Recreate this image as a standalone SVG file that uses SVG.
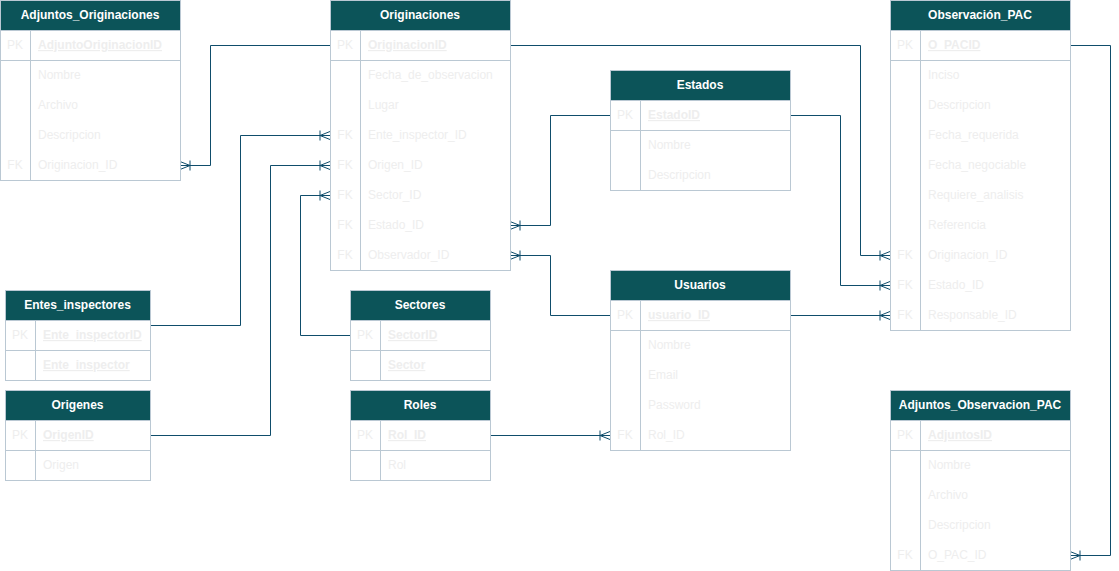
<svg xmlns="http://www.w3.org/2000/svg" width="1119" height="571" viewBox="0 0 1119 571">
<style>
.bg{fill:#ffffff}
.tb{fill:#ffffff;stroke:#BAC8D3;stroke-width:1}
.hd{fill:#0C5459;stroke:#BAC8D3;stroke-width:1}
.sep{stroke:#BAC8D3;stroke-width:1;fill:none}
.ht{font-family:"Liberation Sans",Arial,sans-serif;font-size:12px;font-weight:bold;fill:#ffffff;text-anchor:middle}
.k{font-family:"Liberation Sans",Arial,sans-serif;font-size:12px;fill:#EEEEEE;text-anchor:middle}
.f{font-family:"Liberation Sans",Arial,sans-serif;font-size:12px;fill:#EEEEEE}
.pk{font-weight:bold;text-decoration:underline}
.c{fill:none;stroke:#0F4D6B;stroke-width:1}
</style>
<defs>
<marker id="many" markerUnits="userSpaceOnUse" markerWidth="12" markerHeight="12" viewBox="0 0 12 12" refX="11" refY="6" orient="auto">
<path d="M1,1 L1,11 M1,6 L11,2 M1,6 L11,10" fill="none" stroke="#0F4D6B" stroke-width="1"/>
</marker>
</defs>
<rect class="bg" x="0" y="0" width="1119" height="571"/>

<g id="connectors">
<path class="c" d="M330,45.5 H210.5 V165.5 H180" marker-end="url(#many)"/>
<path class="c" d="M510,45.5 H860.5 V255.5 H890" marker-end="url(#many)"/>
<path class="c" d="M150,325.5 H240.5 V135.5 H330" marker-end="url(#many)"/>
<path class="c" d="M150,435.5 H270.5 V165.5 H330" marker-end="url(#many)"/>
<path class="c" d="M350,335.5 H300.5 V195.5 H330" marker-end="url(#many)"/>
<path class="c" d="M610,115.5 H550.5 V225.5 H510" marker-end="url(#many)"/>
<path class="c" d="M610,315.5 H550.5 V255.5 H510" marker-end="url(#many)"/>
<path class="c" d="M790,115.5 H840.5 V285.5 H890" marker-end="url(#many)"/>
<path class="c" d="M790,315.5 H890" marker-end="url(#many)"/>
<path class="c" d="M490,435.5 H610" marker-end="url(#many)"/>
<path class="c" d="M1070,45.5 H1110.5 V555.5 H1070" marker-end="url(#many)"/>
</g>

<g id="Adjuntos_Originaciones" transform="translate(0,0)">
<rect class="tb" x="0.5" y="0.5" width="180" height="180"/>
<rect class="hd" x="0.5" y="0.5" width="180" height="30"/>
<path class="sep" d="M0.5,60.5 H180.5 M30.5,30.5 V180.5"/>
<text class="ht" x="90" y="19">Adjuntos_Originaciones</text>
<text class="k" x="15" y="49">PK</text><text class="f pk" x="38" y="49">AdjuntoOriginacionID</text>
<text class="f" x="38" y="79">Nombre</text>
<text class="f" x="38" y="109">Archivo</text>
<text class="f" x="38" y="139">Descripcion</text>
<text class="k" x="15" y="169">FK</text><text class="f" x="38" y="169">Originacion_ID</text>
</g>

<g id="Originaciones" transform="translate(330,0)">
<rect class="tb" x="0.5" y="0.5" width="180" height="270"/>
<rect class="hd" x="0.5" y="0.5" width="180" height="30"/>
<path class="sep" d="M0.5,60.5 H180.5 M30.5,30.5 V270.5"/>
<text class="ht" x="90" y="19">Originaciones</text>
<text class="k" x="15" y="49">PK</text><text class="f pk" x="38" y="49">OriginacionID</text>
<text class="f" x="38" y="79">Fecha_de_observacion</text>
<text class="f" x="38" y="109">Lugar</text>
<text class="k" x="15" y="139">FK</text><text class="f" x="38" y="139">Ente_inspector_ID</text>
<text class="k" x="15" y="169">FK</text><text class="f" x="38" y="169">Origen_ID</text>
<text class="k" x="15" y="199">FK</text><text class="f" x="38" y="199">Sector_ID</text>
<text class="k" x="15" y="229">FK</text><text class="f" x="38" y="229">Estado_ID</text>
<text class="k" x="15" y="259">FK</text><text class="f" x="38" y="259">Observador_ID</text>
</g>

<g id="Estados" transform="translate(610,70)">
<rect class="tb" x="0.5" y="0.5" width="180" height="120"/>
<rect class="hd" x="0.5" y="0.5" width="180" height="30"/>
<path class="sep" d="M0.5,60.5 H180.5 M30.5,30.5 V120.5"/>
<text class="ht" x="90" y="19">Estados</text>
<text class="k" x="15" y="49">PK</text><text class="f pk" x="38" y="49">EstadoID</text>
<text class="f" x="38" y="79">Nombre</text>
<text class="f" x="38" y="109">Descripcion</text>
</g>

<g id="Observacion_PAC" transform="translate(890,0)">
<rect class="tb" x="0.5" y="0.5" width="180" height="330"/>
<rect class="hd" x="0.5" y="0.5" width="180" height="30"/>
<path class="sep" d="M0.5,60.5 H180.5 M30.5,30.5 V330.5"/>
<text class="ht" x="90" y="19">Observación_PAC</text>
<text class="k" x="15" y="49">PK</text><text class="f pk" x="38" y="49">O_PACID</text>
<text class="f" x="38" y="79">Inciso</text>
<text class="f" x="38" y="109">Descripcion</text>
<text class="f" x="38" y="139">Fecha_requerida</text>
<text class="f" x="38" y="169">Fecha_negociable</text>
<text class="f" x="38" y="199">Requiere_analisis</text>
<text class="f" x="38" y="229">Referencia</text>
<text class="k" x="15" y="259">FK</text><text class="f" x="38" y="259">Originacion_ID</text>
<text class="k" x="15" y="289">FK</text><text class="f" x="38" y="289">Estado_ID</text>
<text class="k" x="15" y="319">FK</text><text class="f" x="38" y="319">Responsable_ID</text>
</g>

<g id="Entes_inspectores" transform="translate(5,290)">
<rect class="tb" x="0.5" y="0.5" width="145" height="90"/>
<rect class="hd" x="0.5" y="0.5" width="145" height="30"/>
<path class="sep" d="M0.5,60.5 H145.5 M30.5,30.5 V90.5"/>
<text class="ht" x="72.5" y="19">Entes_inspectores</text>
<text class="k" x="15" y="49">PK</text><text class="f pk" x="38" y="49">Ente_inspectorID</text>
<text class="f pk" x="38" y="79">Ente_inspector</text>
</g>

<g id="Origenes" transform="translate(5,390)">
<rect class="tb" x="0.5" y="0.5" width="145" height="90"/>
<rect class="hd" x="0.5" y="0.5" width="145" height="30"/>
<path class="sep" d="M0.5,60.5 H145.5 M30.5,30.5 V90.5"/>
<text class="ht" x="72.5" y="19">Origenes</text>
<text class="k" x="15" y="49">PK</text><text class="f pk" x="38" y="49">OrigenID</text>
<text class="f" x="38" y="79">Origen</text>
</g>

<g id="Sectores" transform="translate(350,290)">
<rect class="tb" x="0.5" y="0.5" width="140" height="90"/>
<rect class="hd" x="0.5" y="0.5" width="140" height="30"/>
<path class="sep" d="M0.5,60.5 H140.5 M30.5,30.5 V90.5"/>
<text class="ht" x="70" y="19">Sectores</text>
<text class="k" x="15" y="49">PK</text><text class="f pk" x="38" y="49">SectorID</text>
<text class="f pk" x="38" y="79">Sector</text>
</g>

<g id="Roles" transform="translate(350,390)">
<rect class="tb" x="0.5" y="0.5" width="140" height="90"/>
<rect class="hd" x="0.5" y="0.5" width="140" height="30"/>
<path class="sep" d="M0.5,60.5 H140.5 M30.5,30.5 V90.5"/>
<text class="ht" x="70" y="19">Roles</text>
<text class="k" x="15" y="49">PK</text><text class="f pk" x="38" y="49">Rol_ID</text>
<text class="f" x="38" y="79">Rol</text>
</g>

<g id="Usuarios" transform="translate(610,270)">
<rect class="tb" x="0.5" y="0.5" width="180" height="180"/>
<rect class="hd" x="0.5" y="0.5" width="180" height="30"/>
<path class="sep" d="M0.5,60.5 H180.5 M30.5,30.5 V180.5"/>
<text class="ht" x="90" y="19">Usuarios</text>
<text class="k" x="15" y="49">PK</text><text class="f pk" x="38" y="49">usuario_ID</text>
<text class="f" x="38" y="79">Nombre</text>
<text class="f" x="38" y="109">Email</text>
<text class="f" x="38" y="139">Password</text>
<text class="k" x="15" y="169">FK</text><text class="f" x="38" y="169">Rol_ID</text>
</g>

<g id="Adjuntos_Observacion_PAC" transform="translate(890,390)">
<rect class="tb" x="0.5" y="0.5" width="180" height="180"/>
<rect class="hd" x="0.5" y="0.5" width="180" height="30"/>
<path class="sep" d="M0.5,60.5 H180.5 M30.5,30.5 V180.5"/>
<text class="ht" x="90" y="19">Adjuntos_Observacion_PAC</text>
<text class="k" x="15" y="49">PK</text><text class="f pk" x="38" y="49">AdjuntosID</text>
<text class="f" x="38" y="79">Nombre</text>
<text class="f" x="38" y="109">Archivo</text>
<text class="f" x="38" y="139">Descripcion</text>
<text class="k" x="15" y="169">FK</text><text class="f" x="38" y="169">O_PAC_ID</text>
</g>
</svg>
